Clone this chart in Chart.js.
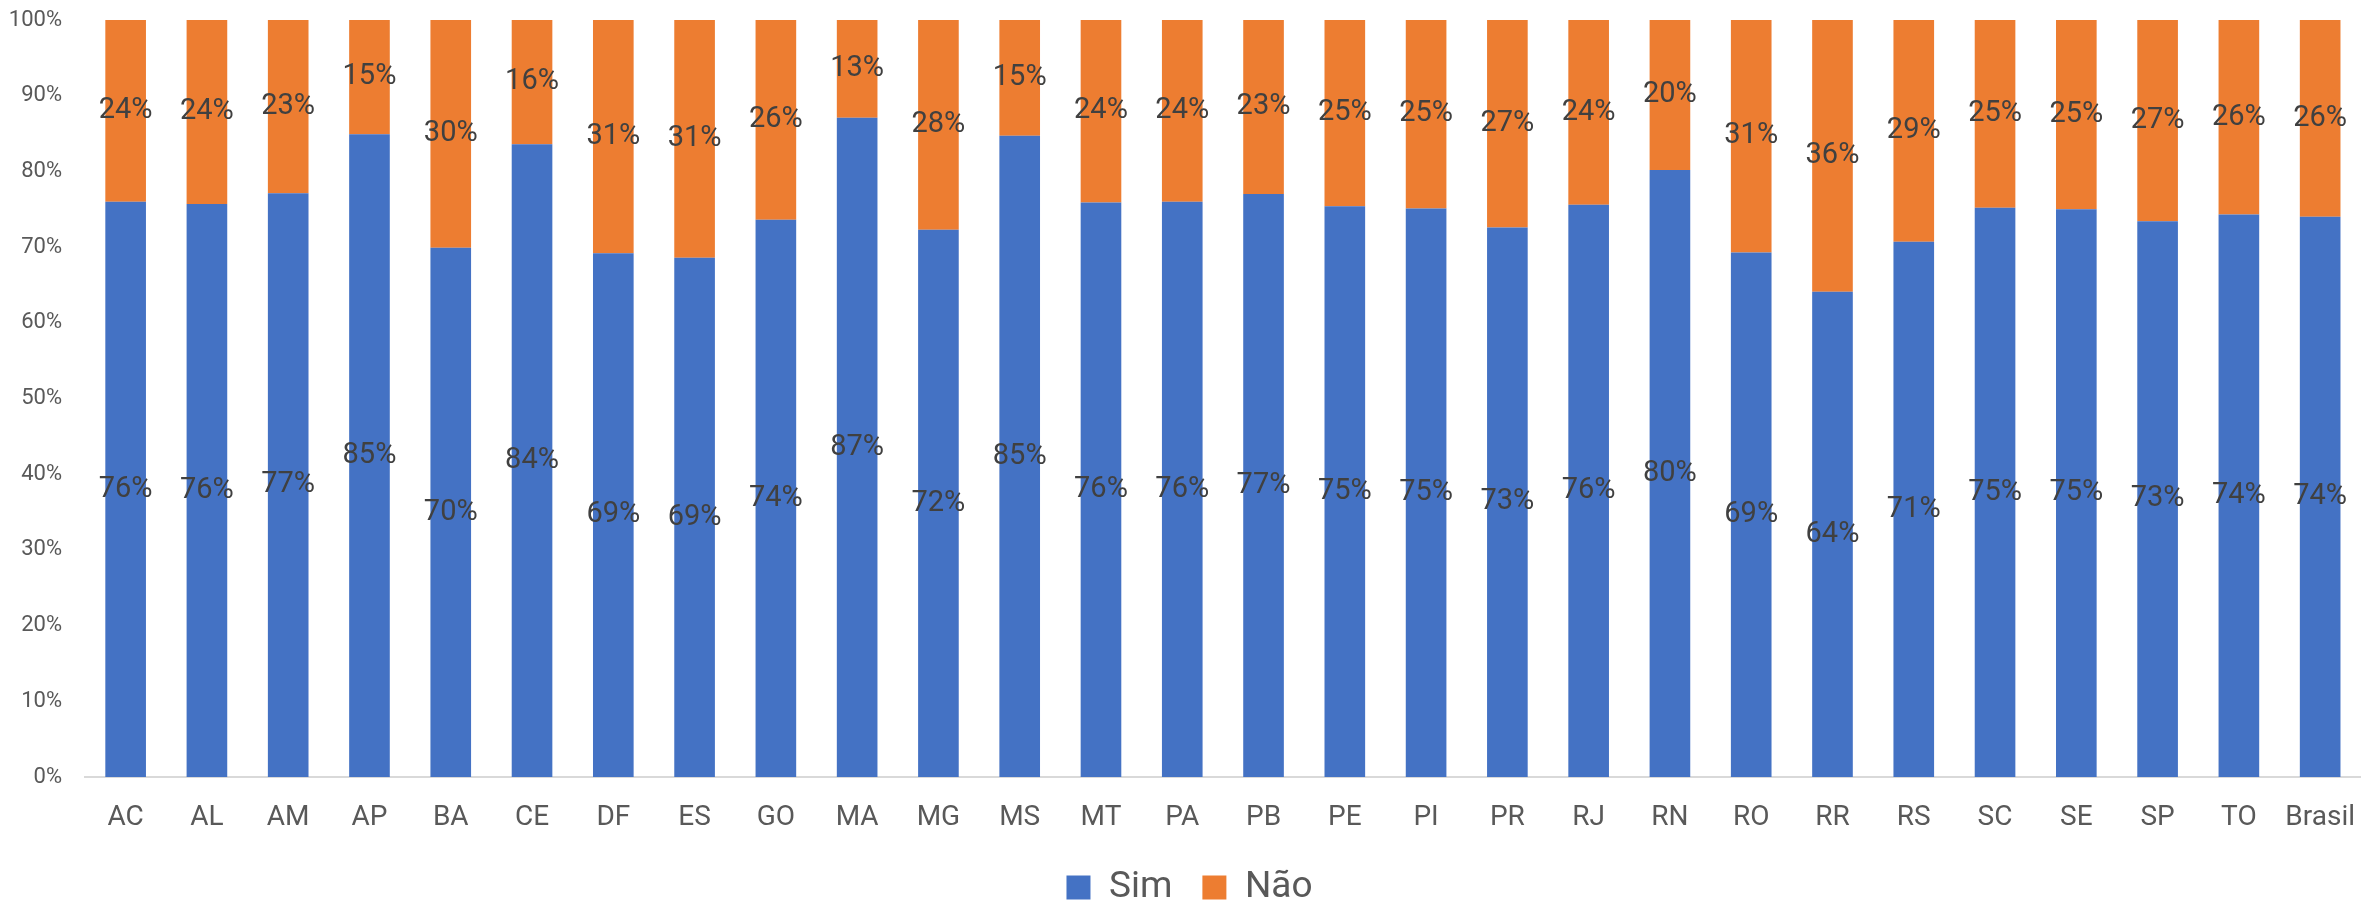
<!DOCTYPE html>
<html>
<head>
<meta charset="utf-8">
<script src="https://cdn.jsdelivr.net/npm/chart.js@4"></script>
<style>
html,body{margin:0;padding:0;background:#fff;overflow:hidden;}
#wrap{width:2379px;height:905px;position:relative;}
</style>
</head>
<body>
<div id="wrap"><canvas id="c" width="2379" height="905"></canvas></div>
<script>
const categories = ["AC","AL","AM","AP","BA","CE","DF","ES","GO","MA","MG","MS","MT","PA","PB","PE","PI","PR","RJ","RN","RO","RR","RS","SC","SE","SP","TO","Brasil"];
const simValues = [76.0,75.7,77.1,84.9,69.9,83.6,69.2,68.6,73.6,87.1,72.3,84.7,75.9,76.0,77.0,75.4,75.1,72.6,75.6,80.2,69.3,64.1,70.7,75.2,75.0,73.4,74.3,74.0];
const naoValues = [24.0,24.3,22.9,15.1,30.1,16.4,30.8,31.4,26.4,12.9,27.7,15.3,24.1,24.0,23.0,24.6,24.9,27.4,24.4,19.8,30.7,35.9,29.3,24.8,25.0,26.6,25.7,26.0];
const seriesNames = ["Sim","Não"];
const yTicks = [0,10,20,30,40,50,60,70,80,90,100];

const FONT = "Roboto";

const labelPlugin = {
  id: 'segLabels',
  afterDatasetsDraw(chart) {
    const ctx = chart.ctx;
    ctx.save();
    ctx.font = "29px " + FONT;
    ctx.fillStyle = "#404040";
    ctx.textAlign = "center";
    ctx.textBaseline = "middle";
    chart.data.datasets.forEach((ds, di) => {
      const meta = chart.getDatasetMeta(di);
      meta.data.forEach((el, i) => {
        const p = el.getProps(['x','y','base'], true);
        ctx.fillText(Math.round(ds.data[i]) + "%", p.x, (p.y + p.base) / 2);
      });
    });
    ctx.restore();
  }
};

new Chart(document.getElementById('c'), {
  type: 'bar',
  data: {
    labels: categories,
    datasets: [
      { label: seriesNames[0], data: simValues, backgroundColor: '#4472C4', barPercentage: 0.5, categoryPercentage: 1.0 },
      { label: seriesNames[1], data: naoValues, backgroundColor: '#ED7D31', barPercentage: 0.5, categoryPercentage: 1.0 }
    ]
  },
  options: {
    responsive: false,
    animation: false,
    devicePixelRatio: 1,
    layout: { padding: { top: 20, right: 0, left: 0, bottom: -11 } },
    scales: {
      x: {
        stacked: true,
        grid: { display: false, drawTicks: false },
        border: { display: true, color: '#D9D9D9', width: 2 },
        ticks: { color: '#595959', font: { family: FONT, size: 28 }, padding: 24, maxRotation: 0, autoSkip: false },
        afterFit(scale) { scale.height = 62; }
      },
      y: {
        stacked: true,
        min: 0, max: 100,
        grid: { display: false, drawTicks: false },
        border: { display: false },
        afterBuildTicks(scale) { scale.ticks = yTicks.map(v => ({ value: v })); },
        ticks: { color: '#595959', font: { family: FONT, size: 22 }, padding: 23, callback: v => v + '%' },
        afterFit(scale) { scale.width = 85; scale.paddingTop = 0; scale.paddingBottom = 0; }
      }
    },
    plugins: {
      legend: {
        position: 'bottom',
        labels: { boxWidth: 24, boxHeight: 24, padding: 30, color: '#595959', font: { family: FONT, size: 37 } }
      },
      tooltip: { enabled: false }
    }
  },
  plugins: [labelPlugin]
});
</script>
</body>
</html>
